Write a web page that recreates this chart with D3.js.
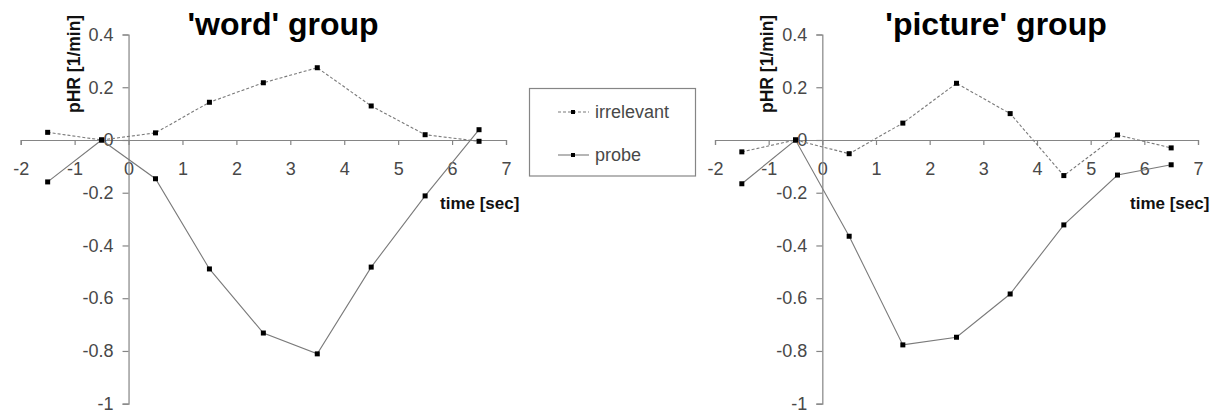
<!DOCTYPE html>
<html>
<head>
<meta charset="utf-8">
<script src="https://cdn.jsdelivr.net/npm/d3@7"></script>
<style>
  body { margin: 0; background: #fff; }
  text { font-family: "Liberation Sans", Arial, sans-serif; }
</style>
</head>
<body>
<div id="canvas"></div>
<script>
// values
const times = [-1.5, -0.5, 0.5, 1.5, 2.5, 3.5, 4.5, 5.5, 6.5];
const wordIrrelevant = [0.029, 0.0, 0.027, 0.143, 0.217, 0.274, 0.129, 0.020, -0.005];
const wordProbe = [-0.159, 0.0, -0.147, -0.489, -0.732, -0.811, -0.482, -0.212, 0.039];
const pictureIrrelevant = [-0.045, 0.0, -0.052, 0.064, 0.215, 0.100, -0.135, 0.019, -0.030];
const pictureProbe = [-0.166, 0.0, -0.365, -0.777, -0.748, -0.584, -0.322, -0.133, -0.094];
const xTicks = [-2, -1, 0, 1, 2, 3, 4, 5, 6, 7];
const yTicks = [0.4, 0.2, 0, -0.2, -0.4, -0.6, -0.8, -1];
const seriesNames = ["irrelevant", "probe"];
const titles = ["'word' group", "'picture' group"];

const width = 1226, height = 414;
const lineColor = "#7a7a7a", axisColor = "#858585", labelColor = "#484848";

const svg = d3.select("#canvas")
    .append("svg")
    .attr("width", width)
    .attr("height", height);

const panels = [
    { left: 20.7, right: 506, titleX: 283, irr: wordIrrelevant, probe: wordProbe, title: titles[0], xLabel: 440 },
    { left: 715, right: 1198, titleX: 996, irr: pictureIrrelevant, probe: pictureProbe, title: titles[1], xLabel: 1130 }
];

const y = d3.scaleLinear().domain([-1, 0.4]).range([403.7, 34.5]);
const fmt = d => String(+d.toFixed(1));

panels.forEach(p => {
    const x = d3.scaleLinear().domain([-2, 7]).range([p.left, p.right]);
    const g = svg.append("g");

    // x axis along y = 0
    const gx = g.append("g")
        .attr("transform", `translate(0,${y(0)})`)
        .call(d3.axisBottom(x).tickValues(xTicks).tickFormat(fmt).tickSize(5).tickPadding(17));
    // y axis at x = 0
    const gy = g.append("g")
        .attr("transform", `translate(${x(0)},0)`)
        .call(d3.axisLeft(y).tickValues(yTicks).tickFormat(fmt).tickSize(6).tickPadding(9));

    [gx, gy].forEach(a => {
        a.selectAll("path, line").attr("stroke", axisColor).attr("stroke-width", 1.2);
        a.selectAll("text").attr("fill", labelColor).style("font-size", "18px")
            .style("font-family", "'Liberation Sans', Arial, sans-serif");
    });

    g.append("text")
        .attr("x", p.titleX).attr("y", 35)
        .attr("text-anchor", "middle")
        .style("font-size", "32px").style("font-weight", "bold")
        .text(p.title);

    g.append("text")
        .attr("transform", `translate(${x(0) - 49},113) rotate(-90)`)
        .style("font-size", "17.5px").style("font-weight", "bold")
        .attr("fill", "#111")
        .text("pHR [1/min]");

    g.append("text")
        .attr("x", p.xLabel).attr("y", 209)
        .style("font-size", "17px").style("font-weight", "bold")
        .attr("fill", "#111")
        .text("time [sec]");

    const line = d3.line().x((d, i) => x(times[i])).y(d => y(d));

    [[p.irr, "3,2"], [p.probe, null]].forEach(([vals, dash]) => {
        g.append("path")
            .datum(vals)
            .attr("fill", "none")
            .attr("stroke", lineColor)
            .attr("stroke-width", 1.1)
            .attr("stroke-dasharray", dash)
            .attr("d", line);
        g.selectAll(null)
            .data(vals)
            .join("rect")
            .attr("x", (d, i) => x(times[i]) - 2.5)
            .attr("y", d => y(d) - 2.5)
            .attr("width", 5).attr("height", 5)
            .attr("fill", "#000");
    });
});

// legend
const legend = svg.append("g");
legend.append("rect")
    .attr("x", 529.5).attr("y", 88.5)
    .attr("width", 166).attr("height", 87.5)
    .attr("fill", "#fff").attr("stroke", axisColor).attr("stroke-width", 1.2);

seriesNames.forEach((name, i) => {
    const ly = 112 + i * 43;
    legend.append("line")
        .attr("x1", 558).attr("x2", 589).attr("y1", ly).attr("y2", ly)
        .attr("stroke", lineColor).attr("stroke-width", 1.1)
        .attr("stroke-dasharray", i === 0 ? "3,2" : null);
    legend.append("rect")
        .attr("x", 571).attr("y", ly - 2).attr("width", 4).attr("height", 4)
        .attr("fill", "#000");
    legend.append("text")
        .attr("x", 595).attr("y", ly + 6)
        .style("font-size", "18px")
        .attr("fill", labelColor)
        .text(name);
});
</script>
</body>
</html>
